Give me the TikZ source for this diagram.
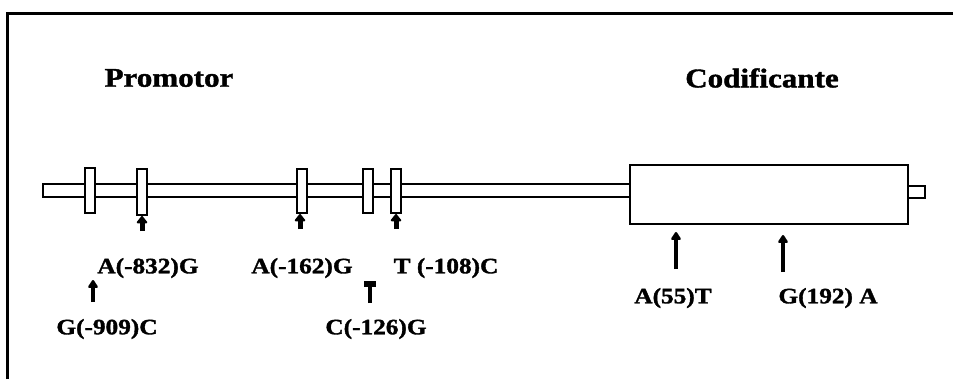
\documentclass[tikz,border=0pt]{standalone}
\usepackage{fontspec}
\setmainfont{Liberation Serif}[FakeStretch=1.15, BoldFeatures={FakeBold=1.5}]
\usetikzlibrary{arrows.meta}
\tikzset{
  lab/.style={font=\fontsize{22bp}{24bp}\selectfont\bfseries, inner sep=0pt, anchor=center},
  ttl/.style={font=\fontsize{27bp}{29bp}\selectfont\bfseries, inner sep=0pt, anchor=center},
  band/.style={draw, line width=2bp, fill=white},
  mut/.style={line width=3.5bp, -{Triangle[length=9bp,width=11bp,round]}},
  blob/.style={line width=5bp, -{Triangle[length=8bp,width=12bp,round]}},
  tmark/.style={line width=3.5bp, -{Rectangle[length=6bp,width=12bp]}},
}
\begin{document}
\begin{tikzpicture}[x=1bp,y=-1bp]
\useasboundingbox (0,0) rectangle (953,379);
% frame
\draw[line width=3bp] (7,379) -- (7,13) -- (953,13);
% titles
\node[ttl] (promotor) at (169,78) {Promotor};
\node[ttl] (codif) at (762,78) {Codificante};
% backbone
\draw[line width=2.2bp, fill=white] (43,184) rectangle (630,197);
% coding box
\draw[line width=2.5bp, fill=white] (630,165) rectangle (908,224);
\draw[line width=2bp, fill=white] (908,186) rectangle (925,198);
% bands
\draw[band] (85,168) rectangle (95,213);
\draw[band] (137,169) rectangle (147,215);
\draw[band] (297,169) rectangle (307,213);
\draw[band] (363,169) rectangle (373,213);
\draw[band] (391,169) rectangle (401,213);
% blobs below bands
\coordinate (b2a) at (142,231); \coordinate (b2b) at (142,216);
\coordinate (b3a) at (300,229); \coordinate (b3b) at (300,214);
\coordinate (b5a) at (396,229); \coordinate (b5b) at (396,214);
\draw[blob] (b2a) -- (b2b);
\draw[blob] (b3a) -- (b3b);
\draw[blob] (b5a) -- (b5b);
% labels
\node[lab] (m832) at (148,268) {A(-832)G};
\node[lab] (m162) at (302,268) {A(-162)G};
\node[lab] (m108) at (446,268) {T (-108)C};
\node[lab] (m909) at (107,329) {G(-909)C};
\node[lab] (m126) at (376,329) {C(-126)G};
\node[lab] (m55) at (673,298) {A(55)T};
\node[lab] (m192) at (828,298) {G(192) A};
% mutation arrows
\coordinate (a909s) at (93,302); \coordinate (a909e) at (93,280);
\draw[mut] (a909s) -- (a909e);
\coordinate (a126s) at (370,303); \coordinate (a126e) at (370,281);
\draw[tmark] (a126s) -- (a126e);
\coordinate (a55s) at (676,269); \coordinate (a55e) at (676,232);
\draw[mut] (a55s) -- (a55e);
\coordinate (a192s) at (783,272); \coordinate (a192e) at (783,235);
\draw[mut] (a192s) -- (a192e);
\end{tikzpicture}
\end{document}
